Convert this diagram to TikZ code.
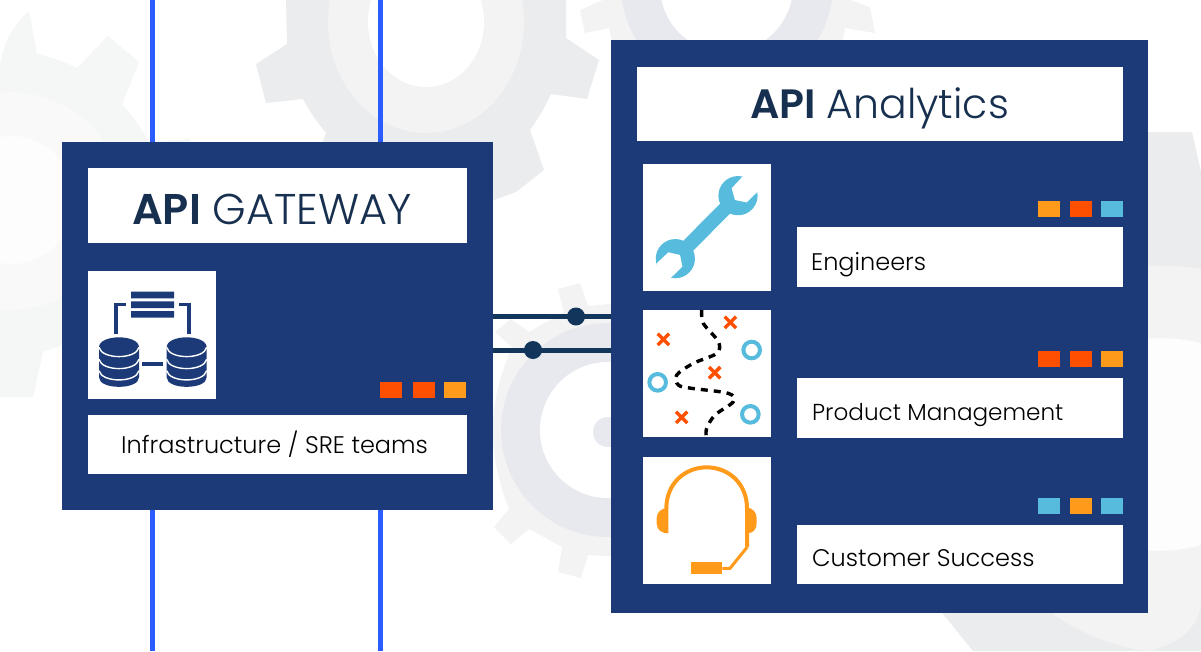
\documentclass[tikz,border=0pt]{standalone}
\usepackage{fontspec}
\setmainfont{Poppins}
\newfontfamily\lightfont{Poppins Light}
\newfontfamily\strongfont{Poppins SemiBold}
\definecolor{navy}{HTML}{1B3A77}
\definecolor{ink}{HTML}{17304F}
\definecolor{wire}{HTML}{12355B}
\definecolor{busblue}{HTML}{2B5CFF}
\definecolor{sqred}{HTML}{FF4F00}
\definecolor{sqorange}{HTML}{FF9A1A}
\definecolor{sqcyan}{HTML}{56BBDC}
\definecolor{gearA}{HTML}{EBECEE}
\definecolor{gearB}{HTML}{F3F3F4}
\definecolor{gearC}{HTML}{E8E9EE}
\definecolor{gearD}{HTML}{F5F6F6}
\definecolor{gearE}{HTML}{F9F9F9}
\definecolor{gearF}{HTML}{FDFDFD}
\tikzset{
  panel/.style={rectangle,fill=navy,inner sep=0pt,outer sep=0pt,anchor=north west},
  whitebox/.style={rectangle,fill=white,inner sep=0pt,outer sep=0pt,anchor=north west},
  sq/.style={rectangle,inner sep=0pt,outer sep=0pt,anchor=north west,minimum width=22pt,minimum height=16pt},
  titletext/.style={anchor=base west,inner sep=0pt,text=ink},
  labeltext/.style={anchor=base west,inner sep=0pt,text=black,font=\lightfont\fontsize{24}{26}\selectfont},
  dot/.style={circle,fill=wire,inner sep=0pt,minimum size=18pt},
  bus/.style={draw=busblue,line width=5pt},
  link/.style={draw=wire,line width=5pt},
  zoomgrid/.style={x=0.33333pt,y=-0.33333pt}
}
\newcommand{\dbcyl}[1]{%
  \begin{scope}[shift={(#1,0)}]
    \fill[navy] (57,262) .. controls (57,222) and (177,222) .. (177,262)
      -- (177,352) .. controls (177,390) and (57,390) .. (57,352) -- cycle;
    \foreach \ly in {262,298,332}
      \draw[white,line width=1.4pt] (57,\ly) .. controls (65,\ly+37) and (169,\ly+37) .. (177,\ly);
  \end{scope}}
\newcommand{\crossmark}[2]{%
  \draw[sqred,line width=3.4pt] (#1-17,#2-17) -- (#1+17,#2+17) (#1-17,#2+17) -- (#1+17,#2-17);}
\begin{document}
\begin{tikzpicture}[x=1pt,y=-1pt]
\useasboundingbox (0,0) rectangle (1201,651);
\fill[white] (0,0) rectangle (1201,651);
\begin{scope}
\clip (0,0) rectangle (1201,651);
% gear far left
\fill[gearD] (0,65) to[bend left=18] (29,11) -- (37,54) to[bend left=6] (77,68) -- (108,36) -- (139,62) -- (122,104) to[bend left=6] (149,142) -- (190,139) -- (196,163) -- (196,300) -- (62,345) -- (43,352) -- (33,397) -- (0,397) -- cycle;
\fill[gearE] (10,201) ellipse [x radius=112pt,y radius=109pt];
\fill[gearF] (12,200) ellipse [x radius=62pt,y radius=64pt];
% gear top centre
\fill[gearA] (286,0) -- (287,44) -- (256,64) -- (266,103) -- (303,99) to[bend right=5] (326,133) -- (315,163) -- (315,200) -- (494,200) -- (516,192) -- (544,170) -- (530,130) to[bend right=5] (551,94) -- (587,99) -- (599,60) -- (566,38) -- (566,0) -- cycle;
\fill[gearB] (426,22) ellipse [x radius=98pt,y radius=111pt];
\fill[white] (426,22) ellipse [x radius=58pt,y radius=65pt];
% gear top right
\fill[gearB] (603,0) -- (580,10) -- (585,33) -- (609,28) -- (613,45) -- (842,45) -- (845,28) -- (875,33) -- (870,7) -- (850,0) -- cycle;
\fill[gearC] (727,-15) circle[radius=106pt];
\fill[white] (726.5,-14) circle[radius=66.5pt];
% gear centre
\fill[gearB] (512,347) -- (495,332) -- (511,319) -- (529,332) -- (564,312) -- (558,289) -- (580,283) -- (588,306) -- (620,303) -- (620,557) -- (588,555) -- (581,578) -- (558,572) -- (562,547) -- (529,529) -- (511,544) -- (494,527) -- (509,509) to[bend left=22] (512,347) -- cycle;
\fill[gearC] (608,430) circle[radius=107pt];
\fill[white] (608,430) circle[radius=68pt];
\fill[gearC] (608,432) circle[radius=15pt];
% gear bottom right
\fill[gearA] (1140,132) -- (1192,132) -- (1201,172) -- (1201,651) -- (973,651) -- (943,614) -- (900,560) -- (900,300) -- cycle;
\fill[gearB] (1053,600) -- (1053,614) .. controls (1080,633) and (1115,647) .. (1147,651) .. controls (1180,645) and (1201,625) .. (1201,600) -- (1201,269) .. controls (1185,266) and (1165,265) .. (1140,266) -- (1050,300) -- cycle;
\fill[gearF] (1140,339) .. controls (1165,337) and (1185,339) .. (1201,343) -- (1201,545) .. controls (1185,550) and (1165,552) .. (1140,550) -- cycle;
\end{scope}
% panels
\node[panel,minimum width=431pt,minimum height=368pt] (gw) at (62,142) {};
\node[panel,minimum width=537pt,minimum height=573pt] (an) at (611,40) {};
% buses
\coordinate (bustopA) at (152.5,0);
\coordinate (bustopB) at (380.5,0);
\coordinate (busbotA) at (152.5,651);
\coordinate (busbotB) at (380.5,651);
\draw[bus] (bustopA) -- (bustopA |- gw.north);
\draw[bus] (bustopB) -- (bustopB |- gw.north);
\draw[bus] (busbotA) -- (busbotA |- gw.south);
\draw[bus] (busbotB) -- (busbotB |- gw.south);
% links
\node[dot] (dotA) at (576,316.5) {};
\node[dot] (dotB) at (533,350) {};
\draw[link] (gw.east |- dotA) -- (an.west |- dotA);
\draw[link] (gw.east |- dotB) -- (an.west |- dotB);
% gateway content
\node[whitebox,minimum width=379pt,minimum height=75pt] (gwtitle) at (88,168) {};
\node[titletext,font=\fontsize{43}{46}\selectfont] (gwtitletext) at (132,224) {{\strongfont API} {\lightfont GATEWAY}};
\node[whitebox,minimum width=128pt,minimum height=128pt] (gwicon) at (88,271) {};
\node[whitebox,minimum width=379pt,minimum height=59pt] (gwlabel) at (88,415) {};
\node[labeltext] (gwlabeltext) at (121,453) {Infrastructure / SRE teams};
\node[sq,fill=sqred] (gwa) at (380,382) {};
\node[sq,fill=sqred] (gwb) at (413,382) {};
\node[sq,fill=sqorange] (gwc) at (444,382) {};
% analytics content
\node[whitebox,minimum width=486pt,minimum height=74pt] (antitle) at (637,67) {};
\node[titletext,font=\fontsize{41}{44}\selectfont] (antitletext) at (750,118) {{\strongfont API} {\lightfont Analytics}};
\node[whitebox,minimum width=128pt,minimum height=127pt] (iconA) at (643,164) {};
\node[whitebox,minimum width=128pt,minimum height=127pt] (iconB) at (643,310) {};
\node[whitebox,minimum width=128pt,minimum height=127pt] (iconC) at (643,457) {};
\node[whitebox,minimum width=326pt,minimum height=60pt] (labA) at (797,227) {};
\node[whitebox,minimum width=326pt,minimum height=60pt] (labB) at (797,378) {};
\node[whitebox,minimum width=326pt,minimum height=59pt] (labC) at (797,525) {};
\node[labeltext] (labAtext) at (811,270) {Engineers};
\node[labeltext,font=\lightfont\fontsize{23.1}{26}\selectfont] (labBtext) at (812,420) {Product Management};
\node[labeltext] (labCtext) at (812,566) {Customer Success};
\node[sq,fill=sqorange] (a1) at (1038,201) {};
\node[sq,fill=sqred] (a2) at (1070,201) {};
\node[sq,fill=sqcyan] (a3) at (1101,201) {};
\node[sq,fill=sqred] (b1) at (1038,351) {};
\node[sq,fill=sqred] (b2) at (1070,351) {};
\node[sq,fill=sqorange] (b3) at (1101,351) {};
\node[sq,fill=sqcyan] (c1) at (1038,498) {};
\node[sq,fill=sqorange] (c2) at (1070,498) {};
\node[sq,fill=sqcyan] (c3) at (1101,498) {};
% database icon
\begin{scope}[shift={(80,260)},zoomgrid]
  \fill[navy] (153,95) rectangle (282,115) (153,124) rectangle (282,144) (153,153) rectangle (282,173);
  \draw[navy,line width=3.5pt] (108,222) -- (108,133) -- (138,133);
  \draw[navy,line width=3.5pt] (298,133) -- (327,133) -- (327,222);
  \dbcyl{0}
  \dbcyl{203}
  \fill[navy] (185,305) rectangle (250,317);
\end{scope}
% wrench icon
\begin{scope}[shift={(635,155)},zoomgrid]
  \fill[sqcyan] (309,122) circle[radius=19.6pt];
  \fill[sqcyan] (121,311) circle[radius=19.6pt];
  \draw[sqcyan,line width=14pt] (270,161) -- (160,272);
  \fill[white] (325,62) -- (290,100) -- (300,135) -- (335,142) -- (370,108) -- (400,60) -- cycle;
  \fill[white] (65,325) -- (100,292) -- (135,300) -- (142,335) -- (108,368) -- (60,400) -- cycle;
\end{scope}
% map icon
\begin{scope}[shift={(635,300)},zoomgrid]
  \draw[black,line width=3.4pt,dash pattern=on 7pt off 6pt]
    plot[smooth,tension=0.55] coordinates {(200,30) (205,70) (250,125) (245,160) (175,190) (125,225) (130,255) (170,265) (280,280) (295,305) (240,345) (215,385) (214,412)};
  \crossmark{85}{118}
  \crossmark{286}{67}
  \crossmark{239}{218}
  \crossmark{140}{352}
  \draw[sqcyan,line width=4pt] (350,150) circle[radius=8.3pt];
  \draw[sqcyan,line width=4pt] (68,247) circle[radius=8.3pt];
  \draw[sqcyan,line width=4pt] (346,343) circle[radius=8.3pt];
\end{scope}
% headset icon
\begin{scope}[shift={(635,450)},zoomgrid]
  \draw[sqorange,line width=4pt] (94,175) .. controls (94,100) and (150,52) .. (215,52) .. controls (280,52) and (336,100) .. (336,175) -- (336,292);
  \draw[sqorange,line width=3pt] (336,292) -- (285,355) -- (262,355);
  \fill[sqorange] (100,172) .. controls (80,175) and (65,185) .. (65,205) -- (65,220) .. controls (65,240) and (80,250) .. (100,250) -- cycle;
  \fill[sqorange] (336,172) .. controls (352,175) and (365,185) .. (365,205) -- (365,220) .. controls (365,240) and (352,250) .. (336,250) -- cycle;
  \fill[sqorange] (168,337) rectangle (262,373);
\end{scope}
\end{tikzpicture}
\end{document}
